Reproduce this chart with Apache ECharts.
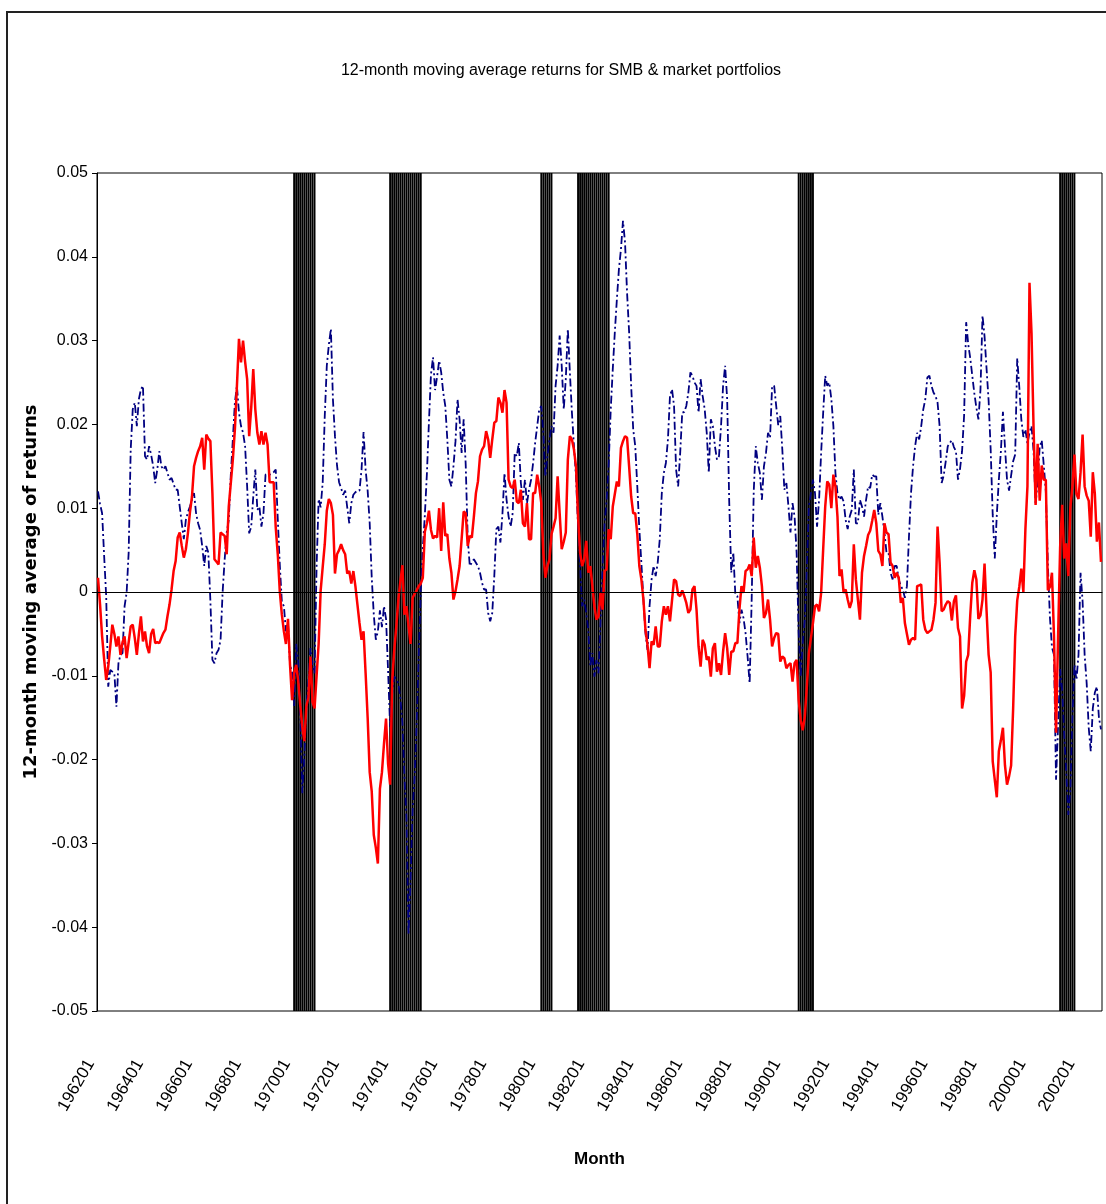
<!DOCTYPE html>
<html>
<head>
<meta charset="utf-8">
<script src="https://cdn.jsdelivr.net/npm/echarts@6/dist/echarts.min.js"></script>
<style>
html,body{margin:0;padding:0;background:#fff;}
#c{width:1106px;height:1204px;}
</style>
</head>
<body>
<div id="c"></div>
<script>
// ---- categories: monthly, 196201 .. 200212 ----
const firstYear = 1962, lastYear = 2002;
const months = [];
for (let y = firstYear; y <= lastYear; y++) {
  for (let m = 1; m <= 12; m++) months.push(String(y) + (m < 10 ? '0' : '') + m);
}

// ---- NBER recession months shaded (start, end inclusive) ----
const recessionPeriods = [
  ['197001', '197011'],
  ['197312', '197503'],
  ['198002', '198007'],
  ['198108', '198211'],
  ['199008', '199103'],
  ['200104', '200111']
];

// ---- SMB 12-month moving average (red, solid) ----
const smb1962to1969 = [
  0.0017,-0.0015,-0.0053,-0.0080,-0.0105,-0.0089,-0.0065,-0.0039,-0.0050,-0.0065,
  -0.0053,-0.0075,-0.0060,-0.0053,-0.0079,-0.0060,-0.0041,-0.0039,-0.0055,-0.0075,
  -0.0050,-0.0029,-0.0059,-0.0047,-0.0065,-0.0073,-0.0050,-0.0044,-0.0061,-0.0060,
  -0.0061,-0.0055,-0.0049,-0.0045,-0.0029,-0.0015,0.0003,0.0025,0.0037,0.0065,
  0.0071,0.0055,0.0041,0.0051,0.0070,0.0095,0.0114,0.0150,0.0160,0.0168,
  0.0174,0.0184,0.0146,0.0188,0.0183,0.0180,0.0118,0.0039,0.0036,0.0033,
  0.0071,0.0069,0.0067,0.0045,0.0102,0.0130,0.0158,0.0194,0.0246,0.0302,
  0.0274,0.0300,0.0275,0.0254,0.0186,0.0220,0.0266,0.0218,0.0190,0.0176,
  0.0192,0.0176,0.0190,0.0176,0.0131,0.0131,0.0131,0.0077,0.0045,0.0000,
  -0.0027,-0.0047,-0.0062,-0.0032,-0.0087,-0.0129
];
const smb1970s = [
  -0.0097,-0.0087,-0.0106,-0.0135,
  -0.0161,-0.0178,-0.0136,-0.0126,-0.0077,-0.0131,-0.0139,-0.0100,-0.0062,0.0002,
  0.0030,0.0057,0.0097,0.0111,0.0106,0.0092,0.0022,0.0045,0.0050,0.0057,
  0.0050,0.0045,0.0022,0.0025,0.0010,0.0025,0.0007,-0.0015,-0.0037,-0.0057,
  -0.0047,-0.0097,-0.0150,-0.0215,-0.0238,-0.0290,-0.0305,-0.0324,-0.0235,-0.0215,
  -0.0181,-0.0151,-0.0205,-0.0230,-0.0106,-0.0070,-0.0042,-0.0010,0.0012,0.0032,
  -0.0027,-0.0017,-0.0040,-0.0062,-0.0007,-0.0002,0.0002,0.0007,0.0010,0.0017,
  0.0072,0.0082,0.0097,0.0074,0.0064,0.0067,0.0065,0.0100,0.0049,0.0107,
  0.0067,0.0069,0.0040,0.0023,-0.0009,0.0001,0.0015,0.0031,0.0063,0.0096,
  0.0094,0.0055,0.0067,0.0065,0.0090,0.0118,0.0132,0.0162,0.0170,0.0174,
  0.0192,0.0182,0.0160,0.0182,0.0202,0.0204,0.0232,0.0226,0.0214,0.0241,
  0.0226,0.0134,0.0126,0.0124,0.0134,0.0108,0.0106,0.0122,0.0082,0.0078,
  0.0106,0.0063,0.0063,0.0118,0.0118,0.0140
];
const smb1980s = [
  0.0126,0.0106,0.0047,0.0017,
  0.0031,0.0039,0.0069,0.0078,0.0088,0.0138,0.0094,0.0051,0.0060,0.0071,
  0.0158,0.0186,0.0182,0.0170,0.0150,0.0090,0.0047,0.0031,0.0039,0.0061,
  0.0023,0.0031,0.0007,-0.0017,-0.0033,-0.0029,-0.0001,-0.0021,0.0025,0.0027,
  0.0075,0.0063,0.0102,0.0117,0.0132,0.0126,0.0172,0.0180,0.0186,0.0184,
  0.0150,0.0114,0.0094,0.0094,0.0069,0.0031,0.0015,-0.0009,-0.0045,-0.0063,
  -0.0091,-0.0059,-0.0063,-0.0041,-0.0065,-0.0065,-0.0035,-0.0017,-0.0027,-0.0017,
  -0.0035,-0.0010,0.0015,0.0013,-0.0003,-0.0005,0.0002,-0.0005,-0.0013,-0.0025,
  -0.0021,0.0003,0.0007,-0.0021,-0.0065,-0.0089,-0.0057,-0.0063,-0.0081,-0.0077,
  -0.0101,-0.0067,-0.0061,-0.0095,-0.0085,-0.0099,-0.0071,-0.0049,-0.0067,-0.0099,
  -0.0071,-0.0071,-0.0061,-0.0061,-0.0021,0.0007,-0.0001,0.0025,0.0027,0.0033,
  0.0019,0.0065,0.0029,0.0043,0.0029,0.0007,-0.0031,-0.0025,-0.0009,-0.0033,
  -0.0065,-0.0055,-0.0049,-0.0050,-0.0083,-0.0077
];
const smb1990s = [
  -0.0079,-0.0091,-0.0087,-0.0085,
  -0.0107,-0.0085,-0.0081,-0.0129,-0.0153,-0.0165,-0.0149,-0.0113,-0.0073,-0.0055,
  -0.0037,-0.0017,-0.0015,-0.0023,-0.0001,0.0051,0.0102,0.0132,0.0128,0.0100,
  0.0140,0.0126,0.0090,0.0019,0.0027,-0.0001,0.0003,-0.0009,-0.0019,-0.0011,
  0.0057,0.0015,-0.0009,-0.0033,0.0023,0.0043,0.0055,0.0068,0.0073,0.0085,
  0.0098,0.0082,0.0049,0.0045,0.0031,0.0082,0.0071,0.0069,0.0035,0.0031,
  0.0017,0.0023,0.0017,-0.0013,-0.0007,-0.0037,-0.0050,-0.0063,-0.0057,-0.0055,
  -0.0057,0.0007,0.0008,0.0009,-0.0033,-0.0045,-0.0049,-0.0047,-0.0045,-0.0033,
  -0.0013,0.0078,0.0035,-0.0023,-0.0021,-0.0015,-0.0011,-0.0013,-0.0034,-0.0011,
  -0.0004,-0.0043,-0.0053,-0.0139,-0.0124,-0.0083,-0.0075,-0.0028,0.0011,0.0026,
  0.0015,-0.0032,-0.0028,-0.0009,0.0034,-0.0023,-0.0075,-0.0096,-0.0202,-0.0224,
  -0.0245,-0.0190,-0.0177,-0.0162,-0.0207,-0.0230,-0.0220,-0.0207,-0.0139,-0.0053,
  -0.0010,0.0006,0.0028,0.0000,0.0075,0.0126
];
const smb2000s = [
  0.0369,0.0309,0.0196,0.0104,
  0.0177,0.0109,0.0151,0.0134,0.0134,0.0002,0.0006,0.0023,-0.0053,-0.0168,
  -0.0053,0.0053,0.0104,0.0040,0.0058,0.0019,0.0100,0.0126,0.0164,0.0117,
  0.0111,0.0143,0.0188,0.0126,0.0115,0.0109,0.0066,0.0143,0.0117,0.0060,
  0.0083,0.0036
];

// ---- Market 12-month moving average (navy, dash-dot) ----
const mkt1962to1969 = [
  0.0120,0.0105,0.0094,0.0043,-0.0005,-0.0113,-0.0093,-0.0095,-0.0097,-0.0137,
  -0.0085,-0.0075,-0.0073,-0.0017,-0.0001,0.0047,0.0170,0.0218,0.0226,0.0198,
  0.0230,0.0242,0.0246,0.0162,0.0158,0.0174,0.0164,0.0150,0.0130,0.0146,
  0.0168,0.0150,0.0146,0.0150,0.0142,0.0134,0.0136,0.0129,0.0122,0.0122,
  0.0102,0.0082,0.0063,0.0086,0.0095,0.0102,0.0110,0.0118,0.0094,0.0082,
  0.0074,0.0055,0.0031,0.0055,0.0047,-0.0010,-0.0081,-0.0085,-0.0073,-0.0069,
  -0.0057,0.0000,0.0039,0.0071,0.0086,0.0140,0.0182,0.0226,0.0246,0.0214,
  0.0198,0.0190,0.0174,0.0126,0.0070,0.0078,0.0114,0.0146,0.0098,0.0102,
  0.0078,0.0094,0.0140,0.0141,0.0140,0.0141,0.0143,0.0146,0.0087,0.0032,
  -0.0012,-0.0017,-0.0047,-0.0037,-0.0087,-0.0096
];
const mkt1970s = [
  -0.0136,-0.0062,-0.0082,-0.0146,
  -0.0240,-0.0196,-0.0136,-0.0106,-0.0067,-0.0087,-0.0097,0.0030,0.0111,0.0101,
  0.0131,0.0210,0.0270,0.0295,0.0314,0.0230,0.0186,0.0151,0.0131,0.0124,
  0.0116,0.0121,0.0101,0.0082,0.0106,0.0116,0.0119,0.0121,0.0121,0.0146,
  0.0191,0.0146,0.0121,0.0082,0.0017,-0.0027,-0.0057,-0.0047,-0.0022,-0.0042,
  -0.0017,-0.0032,-0.0094,-0.0161,-0.0121,-0.0101,-0.0104,-0.0109,-0.0126,-0.0156,
  -0.0220,-0.0270,-0.0409,-0.0344,-0.0260,-0.0220,-0.0156,-0.0077,0.0002,0.0052,
  0.0092,0.0141,0.0203,0.0260,0.0280,0.0241,0.0257,0.0276,0.0262,0.0238,
  0.0222,0.0182,0.0134,0.0126,0.0150,0.0180,0.0230,0.0206,0.0166,0.0206,
  0.0152,0.0063,0.0031,0.0035,0.0039,0.0035,0.0031,0.0023,0.0011,0.0003,
  0.0003,-0.0025,-0.0035,-0.0025,0.0019,0.0075,0.0078,0.0059,0.0094,0.0142,
  0.0110,0.0090,0.0078,0.0094,0.0166,0.0162,0.0178,0.0130,0.0110,0.0134,
  0.0106,0.0122,0.0134,0.0154,0.0178,0.0198
];
const mkt1980s = [
  0.0218,0.0222,0.0190,0.0138,
  0.0162,0.0182,0.0198,0.0190,0.0246,0.0270,0.0306,0.0270,0.0218,0.0254,
  0.0314,0.0262,0.0214,0.0174,0.0138,0.0078,0.0031,-0.0017,-0.0009,-0.0025,
  -0.0045,-0.0089,-0.0073,-0.0101,-0.0081,-0.0097,-0.0035,0.0031,0.0082,0.0110,
  0.0153,0.0218,0.0266,0.0310,0.0349,0.0385,0.0409,0.0443,0.0417,0.0357,
  0.0310,0.0246,0.0194,0.0174,0.0126,0.0075,0.0035,-0.0009,-0.0049,-0.0069,
  -0.0017,0.0015,0.0031,0.0019,0.0035,0.0063,0.0118,0.0142,0.0154,0.0182,
  0.0234,0.0242,0.0222,0.0146,0.0126,0.0166,0.0214,0.0215,0.0222,0.0238,
  0.0262,0.0258,0.0250,0.0246,0.0214,0.0254,0.0234,0.0218,0.0190,0.0142,
  0.0206,0.0198,0.0174,0.0158,0.0162,0.0198,0.0246,0.0270,0.0230,0.0108,
  0.0023,0.0047,-0.0003,-0.0005,-0.0037,-0.0021,-0.0031,-0.0049,-0.0077,-0.0109,
  -0.0009,0.0120,0.0174,0.0154,0.0142,0.0110,0.0150,0.0166,0.0190,0.0184,
  0.0246,0.0246,0.0222,0.0199,0.0210,0.0170
];
const mkt1990s = [
  0.0122,0.0130,0.0102,0.0071,
  0.0106,0.0090,0.0047,-0.0049,-0.0101,-0.0061,-0.0033,0.0029,0.0102,0.0118,
  0.0134,0.0118,0.0078,0.0110,0.0166,0.0214,0.0258,0.0246,0.0250,0.0230,
  0.0198,0.0142,0.0118,0.0110,0.0114,0.0108,0.0086,0.0075,0.0090,0.0098,
  0.0146,0.0082,0.0082,0.0110,0.0102,0.0090,0.0110,0.0126,0.0124,0.0140,
  0.0138,0.0138,0.0092,0.0106,0.0090,0.0071,0.0047,0.0047,0.0023,0.0015,
  0.0031,0.0031,0.0015,0.0007,0.0003,-0.0007,0.0007,0.0066,0.0118,0.0150,
  0.0174,0.0190,0.0182,0.0198,0.0218,0.0230,0.0256,0.0258,0.0246,0.0238,
  0.0234,0.0226,0.0198,0.0130,0.0139,0.0156,0.0174,0.0178,0.0181,0.0173,
  0.0168,0.0134,0.0147,0.0168,0.0211,0.0322,0.0296,0.0279,0.0258,0.0237,
  0.0220,0.0206,0.0241,0.0330,0.0305,0.0266,0.0228,0.0170,0.0092,0.0040,
  0.0092,0.0134,0.0168,0.0215,0.0173,0.0134,0.0121,0.0139,0.0156,0.0164,
  0.0279,0.0245,0.0206,0.0185,0.0194,0.0177
];
const mkt2000s = [
  0.0190,0.0198,0.0168,0.0104,
  0.0134,0.0173,0.0181,0.0151,0.0120,0.0032,-0.0030,-0.0066,-0.0075,-0.0224,
  -0.0160,-0.0092,-0.0117,-0.0170,-0.0215,-0.0266,-0.0237,-0.0150,-0.0087,-0.0105,
  -0.0075,0.0023,-0.0011,-0.0075,-0.0109,-0.0162,-0.0190,-0.0139,-0.0120,-0.0113,
  -0.0150,-0.0164
];

// ---- axis tick settings ----
const yMin = -0.05, yMax = 0.05, yStep = 0.01;
const xLabelEvery = 24;

const smb = [].concat(smb1962to1969, smb1970s, smb1980s, smb1990s, smb2000s);
const mkt = [].concat(mkt1962to1969, mkt1970s, mkt1980s, mkt1990s, mkt2000s);

function inRecession(m) {
  return recessionPeriods.some(p => m >= p[0] && m <= p[1]);
}
const recUp = months.map(m => inRecession(m) ? yMax : '-');
const recDown = months.map(m => inRecession(m) ? yMin : '-');

const sans = "'Liberation Sans', Arial, sans-serif";

const chart = echarts.init(document.getElementById('c'), null, {renderer: 'canvas'});
chart.setOption({
  animation: false,
  backgroundColor: '#ffffff',
  title: {
    text: '12-month moving average returns for SMB & market portfolios',
    left: 556,
    top: 58,
    textAlign: 'center',
    textStyle: {fontFamily: sans, fontSize: 16, fontWeight: 'normal', color: '#000'}
  },
  graphic: [{
    type: 'rect',
    shape: {x: 7, y: 12, width: 1200, height: 1300},
    style: {fill: 'none', stroke: '#222', lineWidth: 2},
    silent: true
  }],
  grid: {
    left: 97, right: 4, top: 173, bottom: 193,
    show: true, borderColor: '#000', borderWidth: 1, backgroundColor: 'transparent'
  },
  xAxis: {
    type: 'category',
    data: months,
    boundaryGap: true,
    name: 'Month',
    nameLocation: 'middle',
    nameGap: 140,
    nameTextStyle: {fontFamily: sans, fontSize: 17, fontWeight: 'bold', color: '#000'},
    axisLine: {show: true, lineStyle: {color: '#000', width: 1}},
    axisTick: {show: false},
    splitLine: {show: false},
    axisLabel: {
      interval: xLabelEvery - 1,
      rotate: 60,
      margin: 54,
      verticalAlign: 'bottom',
      fontFamily: sans,
      fontSize: 17,
      color: '#000'
    }
  },
  yAxis: {
    type: 'value',
    min: yMin, max: yMax, interval: yStep,
    name: '12-month moving average of returns',
    nameLocation: 'middle',
    nameGap: 53,
    nameRotate: 90,
    nameTextStyle: {fontFamily: "'DejaVu Sans', sans-serif", fontSize: 18, fontWeight: 'bold', color: '#000'},
    axisLine: {show: true, lineStyle: {color: '#000', width: 1}},
    axisTick: {show: true, length: 5, lineStyle: {color: '#000'}},
    splitLine: {show: false},
    axisLabel: {
      margin: 9,
      fontFamily: sans,
      fontSize: 16,
      color: '#000',
      formatter: v => (Math.abs(v) < 1e-9 ? '0' : (+v).toFixed(2))
    }
  },
  series: [
    {
      name: 'Recession', type: 'bar', stack: 'rec', data: recUp,
      barCategoryGap: '8%', itemStyle: {color: '#000'}, silent: true, z: 1
    },
    {
      name: 'Recession ', type: 'bar', stack: 'rec', data: recDown,
      barCategoryGap: '8%', itemStyle: {color: '#000'}, silent: true, z: 1
    },
    {
      name: 'Market', type: 'line', data: mkt, symbol: 'none', z: 3,
      lineStyle: {color: '#000080', width: 1.8, type: [8, 3, 2, 3]}
    },
    {
      name: 'SMB', type: 'line', data: smb, symbol: 'none', z: 4,
      lineStyle: {color: '#ff0000', width: 2.5},
      markLine: {
        silent: true, symbol: 'none', label: {show: false},
        lineStyle: {color: '#000', width: 1, type: 'solid'},
        data: [{yAxis: 0}]
      }
    }
  ]
});
</script>
</body>
</html>
